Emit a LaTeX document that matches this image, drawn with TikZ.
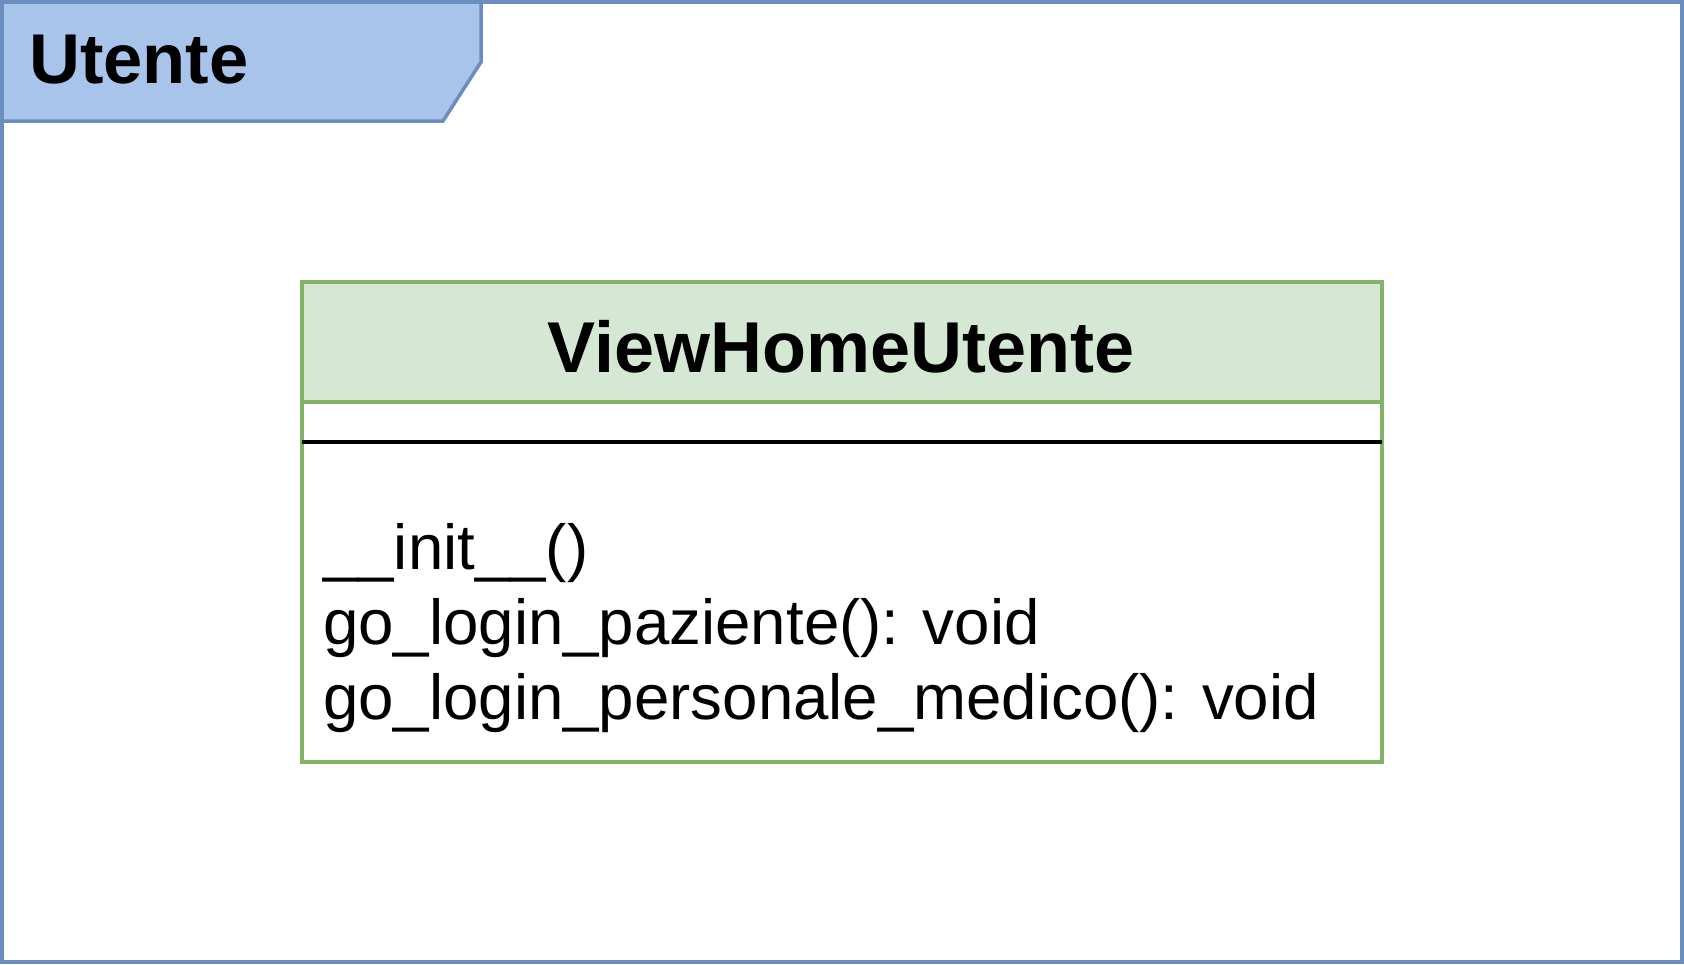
\documentclass[tikz,border=0pt]{standalone}
\usepackage{fontspec}
\setmainfont{Liberation Sans}
\definecolor{frameblue}{HTML}{6C8EBF}
\definecolor{tabblue}{HTML}{A9C4EB}
\definecolor{clsgreen}{HTML}{82B366}
\definecolor{headgreen}{HTML}{D5E8D4}
\tikzset{
  framestyle/.style={draw=frameblue, line width=3.5pt},
  clsline/.style={draw=clsgreen, line width=3.5pt},
  bigbold/.style={font=\fontsize{70.5}{84}\selectfont\bfseries, inner sep=0pt, anchor=base west},
  headbold/.style={font=\fontsize{72}{86}\selectfont\bfseries, inner sep=0pt, anchor=base},
  member/.style={font=\fontsize{63.6}{75}\selectfont, inner sep=0pt, anchor=base west},
}
\begin{document}
\begin{tikzpicture}[x=1pt,y=-1pt]
\useasboundingbox (0,0) rectangle (1684,964);
\fill[white] (0,0) rectangle (1684,964);
% frame and tab
\draw[framestyle] (2,2) rectangle (1682,962);
\filldraw[framestyle, fill=tabblue] (2,2) -- (481,2) -- (481,62) -- (443,121) -- (2,121) -- cycle;
\node[bigbold] (title) at (29,83) {Utente};
% class box
\coordinate (boxnw) at (302,282);
\coordinate (boxse) at (1382,762);
\fill[headgreen] (302,282) rectangle (1382,402);
\draw[clsline] (302,402) -- (1382,402);
\draw[clsline] (boxnw) rectangle (boxse);
\coordinate (sepl) at (302,442);
\coordinate (sepr) at (1382,442);
\draw[black, line width=3.5pt] (sepl) -- (sepr);
\node[headbold] (clsname) at (841,372) {ViewHomeUtente};
\node[member] (m1) at (323,569) {\_\_init\_\_()};
\node[member] (m2) at (323,644) {go\_login\_paziente(): void};
\node[member] (m3) at (323,719) {go\_login\_personale\_medico(): void};
\end{tikzpicture}
\end{document}
